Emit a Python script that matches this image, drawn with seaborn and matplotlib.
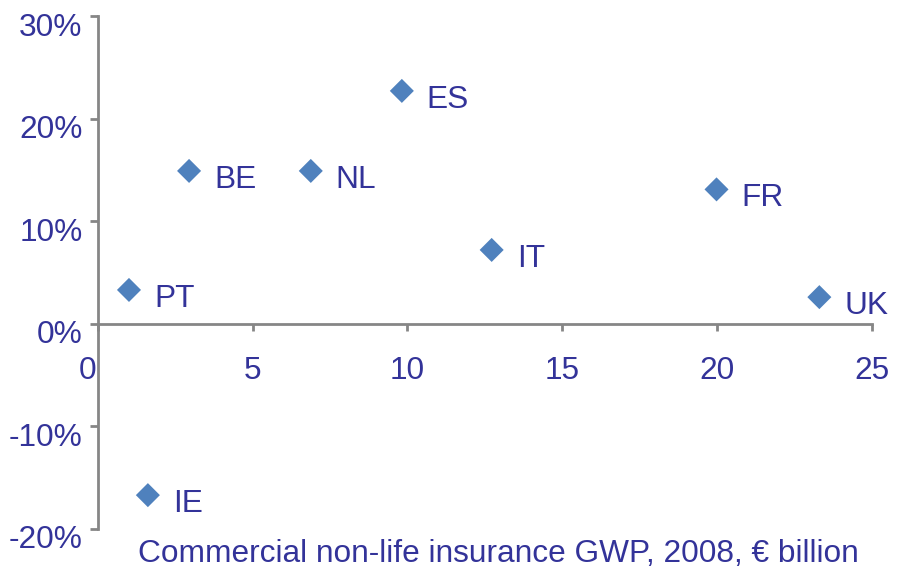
import matplotlib
matplotlib.use("Agg")
import matplotlib.pyplot as plt
import matplotlib.transforms as mtransforms
import seaborn as sns
import pandas as pd

countries = ["ES", "BE", "NL", "FR", "IT", "PT", "UK", "IE"]
gwp = [9.82, 2.95, 6.88, 19.98, 12.72, 1.01, 23.3, 1.62]
growth = [22.7, 14.9, 14.9, 13.1, 7.2, 3.3, 2.6, -16.7]
x_ticks = [0, 5, 10, 15, 20, 25]
y_ticks = [-20, -10, 0, 10, 20, 30]
x_label = "Commercial non-life insurance GWP, 2008, \u20ac billion"

df = pd.DataFrame({"country": countries, "gwp": gwp, "growth": growth})

sns.set_style("white")
plt.rcParams["font.family"] = ["Liberation Sans", "DejaVu Sans"]

TEXT = "#333399"
MARK = "#4F81BD"
AXC = "#868686"
FS = 22.8

fig = plt.figure(figsize=(8.98, 5.73), dpi=100)
ax = fig.add_axes([97.7 / 898, (573 - 529) / 573, (872 - 97.7) / 898, (529 - 16) / 573])

sns.scatterplot(data=df, x="gwp", y="growth", marker="D", s=150, color=MARK,
                edgecolor="none", linewidth=0, ax=ax, zorder=3)

for c, xv, yv in zip(countries, gwp, growth):
    ax.annotate(c, (xv, yv), xytext=(18, -6.5), textcoords="offset points",
                ha="left", va="center", fontsize=FS, color=TEXT)

ax.set_xlim(0, 25)
ax.set_ylim(-20, 30)
ax.set_xticks(x_ticks)
ax.set_yticks(y_ticks)
ax.set_xticklabels([str(v) for v in x_ticks])
ax.set_yticklabels([f"{v}%" for v in y_ticks])

for s in ["top", "right"]:
    ax.spines[s].set_visible(False)
ax.spines["bottom"].set_position(("data", 0))
ax.spines["left"].set_position(("data", 0))
for s in ["bottom", "left"]:
    ax.spines[s].set_color(AXC)
    ax.spines[s].set_linewidth(2)
    ax.spines[s].set_zorder(1)

ax.tick_params(axis="x", direction="out", length=5, width=2, color=AXC,
               pad=18, labelsize=FS, labelcolor=TEXT, bottom=True)
ax.tick_params(axis="y", direction="out", length=6, width=2, color=AXC,
               pad=5, labelsize=FS, labelcolor=TEXT, left=True)

# shift y tick labels slightly downward like the original
offy = mtransforms.ScaledTranslation(0, -8 / 100, fig.dpi_scale_trans)
for lab in ax.get_yticklabels():
    lab.set_transform(lab.get_transform() + offy)
offx = mtransforms.ScaledTranslation(-10 / 100, 0, fig.dpi_scale_trans)
xl = ax.get_xticklabels()
xl[0].set_transform(xl[0].get_transform() + offx)

ax.set_xlabel(x_label, fontsize=FS, color=TEXT, va="center")
ax.xaxis.set_label_coords(0.517, -0.049)
ax.set_ylabel("")
ax.grid(False)

fig.savefig("out.png", dpi=100)
